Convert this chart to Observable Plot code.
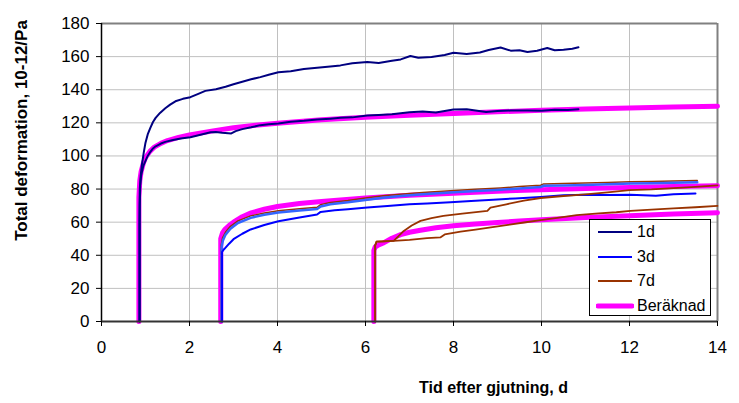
<!DOCTYPE html>
<html>
<head>
<meta charset="utf-8">
<script src="https://cdn.jsdelivr.net/npm/d3@7"></script>
<script src="https://cdn.jsdelivr.net/npm/@observablehq/plot@0.6"></script>
<style>
  body { margin: 0; background: #fff; }
  #wrap { position: relative; width: 739px; height: 403px; font-family: "Liberation Sans", Arial, sans-serif; }
  #legend { position: absolute; left: 589px; top: 219px; width: 122px; height: 97px; border: 1px solid #000; background: #fff; box-sizing: border-box; }
  .item { position: absolute; left: 6px; height: 20px; display: flex; align-items: center; font-size: 16px; color: #000; }
  .item svg { margin-right: 3px; }
</style>
</head>
<body>
<div id="wrap"></div>
<script>
// ---- tick values ----
const xTicks = [0, 2, 4, 6, 8, 10, 12, 14];
const yTicks = [0, 20, 40, 60, 80, 100, 120, 140, 160, 180];

// ---- legend ----
const legendLabels = ["1d", "3d", "7d", "Beräknad"];
const legendColors = ["#000080", "#0000ff", "#993300", "#ff00ff"];

// ---- measured curves [t (d), deformation] ----
const day1Upper = [[0.86,0],[0.86,60],[0.87,80],[0.89,88],[0.92,95],[0.96,102],[1.0,108],[1.05,113],[1.11,117],[1.17,120.5],[1.23,123],[1.33,126],[1.45,128.8],[1.56,131],[1.68,133],[1.85,134.5],[2.02,135.5],[2.2,137.5],[2.36,139.3],[2.6,140.3],[2.82,141.8],[3.0,143.3],[3.2,144.8],[3.4,146.3],[3.61,147.6],[3.8,149],[4.02,150.6],[4.3,151.2],[4.6,152.5],[4.9,153.2],[5.2,154],[5.43,154.7],[5.7,156],[6.04,156.8],[6.3,156.2],[6.6,157.5],[6.8,158.3],[7.02,160.4],[7.2,159.3],[7.5,159.8],[7.8,161],[8.0,162.3],[8.3,161.6],[8.6,162.5],[8.8,164],[9.07,165.5],[9.3,163.6],[9.5,163.8],[9.68,162.8],[9.9,163.5],[10.13,165.2],[10.3,163.8],[10.5,164.2],[10.7,164.8],[10.84,165.6]];
const day1Lower = [[0.87,0],[0.87,70],[0.88,82],[0.9,88],[0.95,94],[1.0,97],[1.05,100],[1.11,102.5],[1.17,104.5],[1.23,105.8],[1.35,107.5],[1.45,108.5],[1.6,109.5],[1.8,110.5],[2.02,111.3],[2.25,112.8],[2.48,114.3],[2.6,114.5],[2.74,114],[2.95,113.6],[3.05,115],[3.2,116.2],[3.4,117.3],[3.61,118.6],[3.8,119.2],[4.02,119.6],[4.3,120.6],[4.6,121.2],[4.9,122],[5.2,122.5],[5.43,123],[5.7,123.3],[6.04,124.4],[6.3,124.8],[6.6,125.2],[7.0,126.4],[7.3,126.8],[7.6,126.3],[8.0,128.1],[8.3,128.2],[8.5,127.4],[8.74,126.5],[9.0,127.1],[9.3,127.4],[9.68,127.4],[10.0,127.3],[10.3,127.9],[10.6,127.8],[10.84,128.2]];
const day3Light = [[2.73,0],[2.73,45],[2.76,49],[2.82,52.5],[2.93,56],[3.1,59.5],[3.39,62.6],[3.7,64.5],[4.02,65.8],[4.5,67],[4.9,67.9],[4.98,69.5],[5.2,70.8],[5.6,72],[6.04,73.6],[6.4,74.8],[6.8,75.8],[7.3,76.8],[7.93,77.9],[8.5,78.8],[9.07,79.6],[9.5,80.4],[9.98,81.2],[10.05,82],[10.5,82.2],[11.0,82.5],[11.5,82.9],[12.02,83.3],[12.5,83.5],[13.0,83.8],[13.54,84.1]];
const day3Brown = [[2.72,0],[2.72,46],[2.75,50.5],[2.82,54],[2.93,57.5],[3.1,60.8],[3.39,63.8],[3.7,65.6],[4.02,66.9],[4.5,68.1],[4.9,69],[4.98,70.6],[5.2,71.9],[5.6,73.1],[6.04,74.7],[6.4,75.9],[6.8,76.9],[7.3,77.9],[7.93,79],[8.5,79.9],[9.07,80.7],[9.5,81.5],[9.98,82.3],[10.05,83.1],[10.5,83.3],[11.0,83.6],[11.5,84],[12.02,84.4],[12.5,84.6],[13.0,84.9],[13.54,85.2]];
const day3Blue = [[2.74,0],[2.74,42],[2.78,43.5],[2.82,44.6],[2.9,47],[3.0,49.7],[3.2,53],[3.39,55.6],[3.7,58.3],[4.02,60.6],[4.5,62.8],[4.9,64.6],[4.98,66.2],[5.3,67.2],[5.6,67.8],[6.04,68.8],[6.5,69.8],[7.0,70.8],[7.4,71.3],[7.93,72],[8.4,72.8],[8.9,73.6],[9.4,74.3],[9.98,75.2],[10.5,76.3],[11.0,76.6],[11.5,76.4],[12.02,76.5],[12.6,75.9],[13.0,76.8],[13.5,77.3]];
const day7Upper = [[6.22,0],[6.22,46],[6.25,48.2],[6.4,48.4],[6.64,48.7],[6.75,51.5],[6.87,54.7],[7.05,58],[7.25,60.8],[7.5,62.5],[7.77,63.8],[8.2,65.2],[8.77,66.8],[8.84,68.8],[9.2,70.8],[9.6,73],[9.98,74.6],[10.5,75.8],[11.0,76.8],[11.5,78],[12.0,79.3],[12.5,79.8],[13.0,80.6],[13.5,81.3],[14.0,82.2]];
const day7Lower = [[6.22,0],[6.22,46],[6.25,48.2],[6.4,48.4],[6.64,48.7],[7.0,49.3],[7.4,50.3],[7.7,50.8],[7.8,52.6],[8.16,54.3],[8.5,55.5],[8.77,56.6],[9.2,58.2],[9.6,59.8],[9.98,61.2],[10.4,62.8],[10.8,64.3],[11.3,65.3],[11.7,66],[12.02,66.8],[12.5,67.6],[13.0,68.3],[13.5,69],[14.0,69.8]];

// ---- calculated curves (Beräknad) ----
const calc1 = [[0.85,0],[0.85,75],[0.87,85],[0.9,90.5],[0.95,95.5],[1.0,99],[1.1,102.8],[1.2,105.3],[1.35,107.6],[1.5,109.3],[1.75,111.2],[2.0,112.7],[2.5,115],[3.0,117],[3.5,118.5],[4.0,119.8],[5.0,121.8],[6.0,123.3],[7.0,124.6],[8.0,125.7],[9.0,126.7],[10.0,127.6],[11.0,128.3],[12.0,129],[13.0,129.5],[14.0,130]];
const calc3 = [[2.71,0],[2.71,50],[2.75,53.5],[2.8,55.5],[2.9,58],[3.0,60],[3.2,63.3],[3.4,65.6],[3.7,67.8],[4.0,69.5],[4.5,71.3],[5.0,72.5],[5.5,73.6],[6.0,74.6],[7.0,76.2],[8.0,77.5],[9.0,78.7],[10.0,79.6],[11.0,80.4],[12.0,81],[13.0,81.5],[14.0,82]];
const calc7 = [[6.19,0],[6.19,43],[6.22,45],[6.3,46.3],[6.42,47.6],[6.6,50.3],[6.8,52.5],[7.0,53.9],[7.25,55.1],[7.6,56.6],[8.0,57.8],[8.5,58.9],[9.0,59.8],[9.5,60.7],[10.0,61.5],[11.0,62.8],[12.0,63.9],[13.0,64.9],[14.0,65.7]];

const font = "'Liberation Sans', Arial, sans-serif";
const ln = (data, stroke, w) => Plot.line(data, {x: d => d[0], y: d => d[1], stroke, strokeWidth: w, strokeLinejoin: "round"});

const chart = Plot.plot({
  width: 739,
  height: 403,
  marginLeft: 101,
  marginRight: 22,
  marginTop: 23,
  marginBottom: 82,
  style: {fontFamily: font, background: "#fff", overflow: "visible"},
  x: {domain: [0, 14]},
  y: {domain: [0, 180]},
  marks: [
    Plot.gridX(xTicks.filter(t => t > 0 && t < 14), {stroke: "#c0c0c0", strokeOpacity: 1, strokeWidth: 1}),
    Plot.gridY(yTicks.filter(t => t > 0 && t < 180), {stroke: "#c0c0c0", strokeOpacity: 1, strokeWidth: 1}),
    Plot.ruleY([180], {stroke: "#808080", strokeWidth: 2}),
    Plot.ruleX([14], {stroke: "#808080", strokeWidth: 2}),
    ln(calc1, "#ff00ff", 5),
    ln(calc3, "#ff00ff", 5),
    ln(calc7, "#ff00ff", 5),
    ln(day1Upper, "#000080", 2),
    ln(day1Lower, "#000080", 2),
    ln(day3Brown, "#993300", 1.5),
    ln(day3Light, "#3366ff", 2.5),
    ln(day3Blue, "#0000ff", 2),
    ln(day7Upper, "#993300", 1.8),
    ln(day7Lower, "#993300", 1.8),
    Plot.ruleX([0], {stroke: "#000", strokeWidth: 1.5}),
    Plot.ruleY([0], {stroke: "#333", strokeWidth: 2}),
    Plot.axisY({ticks: yTicks, tickSize: 5, tickPadding: 7, fontSize: 17, label: null, stroke: "#000"}),
    Plot.axisX({ticks: xTicks, tickSize: 5, tickPadding: 14, fontSize: 17, label: null, stroke: "#000"}),
    Plot.text(["Total deformation, 10-12/Pa"], {frameAnchor: "left", textAnchor: "middle", lineAnchor: "middle", rotate: -90, dx: -80, dy: -42, fontWeight: "bold", fontSize: 17, fill: "#000"}),
    Plot.text(["Tid efter gjutning, d"], {frameAnchor: "bottom", textAnchor: "middle", dx: 84, dy: 71, fontWeight: "bold", fontSize: 16, fill: "#000"})
  ]
});
const wrap = document.getElementById("wrap");
wrap.appendChild(chart);

// legend overlay
const legend = document.createElement("div");
legend.id = "legend";
legendLabels.forEach((lab, i) => {
  const item = document.createElement("div");
  item.className = "item";
  item.style.top = (2 + i * 24.5) + "px";
  const w = i === 3 ? 5 : 2;
  item.innerHTML = `<svg width="38" height="10"><line x1="2" x2="36" y1="5" y2="5" stroke="${legendColors[i]}" stroke-width="${w}" stroke-linecap="${i === 3 ? "round" : "butt"}"/></svg><span>${lab}</span>`;
  legend.appendChild(item);
});
wrap.appendChild(legend);
</script>
</body>
</html>
